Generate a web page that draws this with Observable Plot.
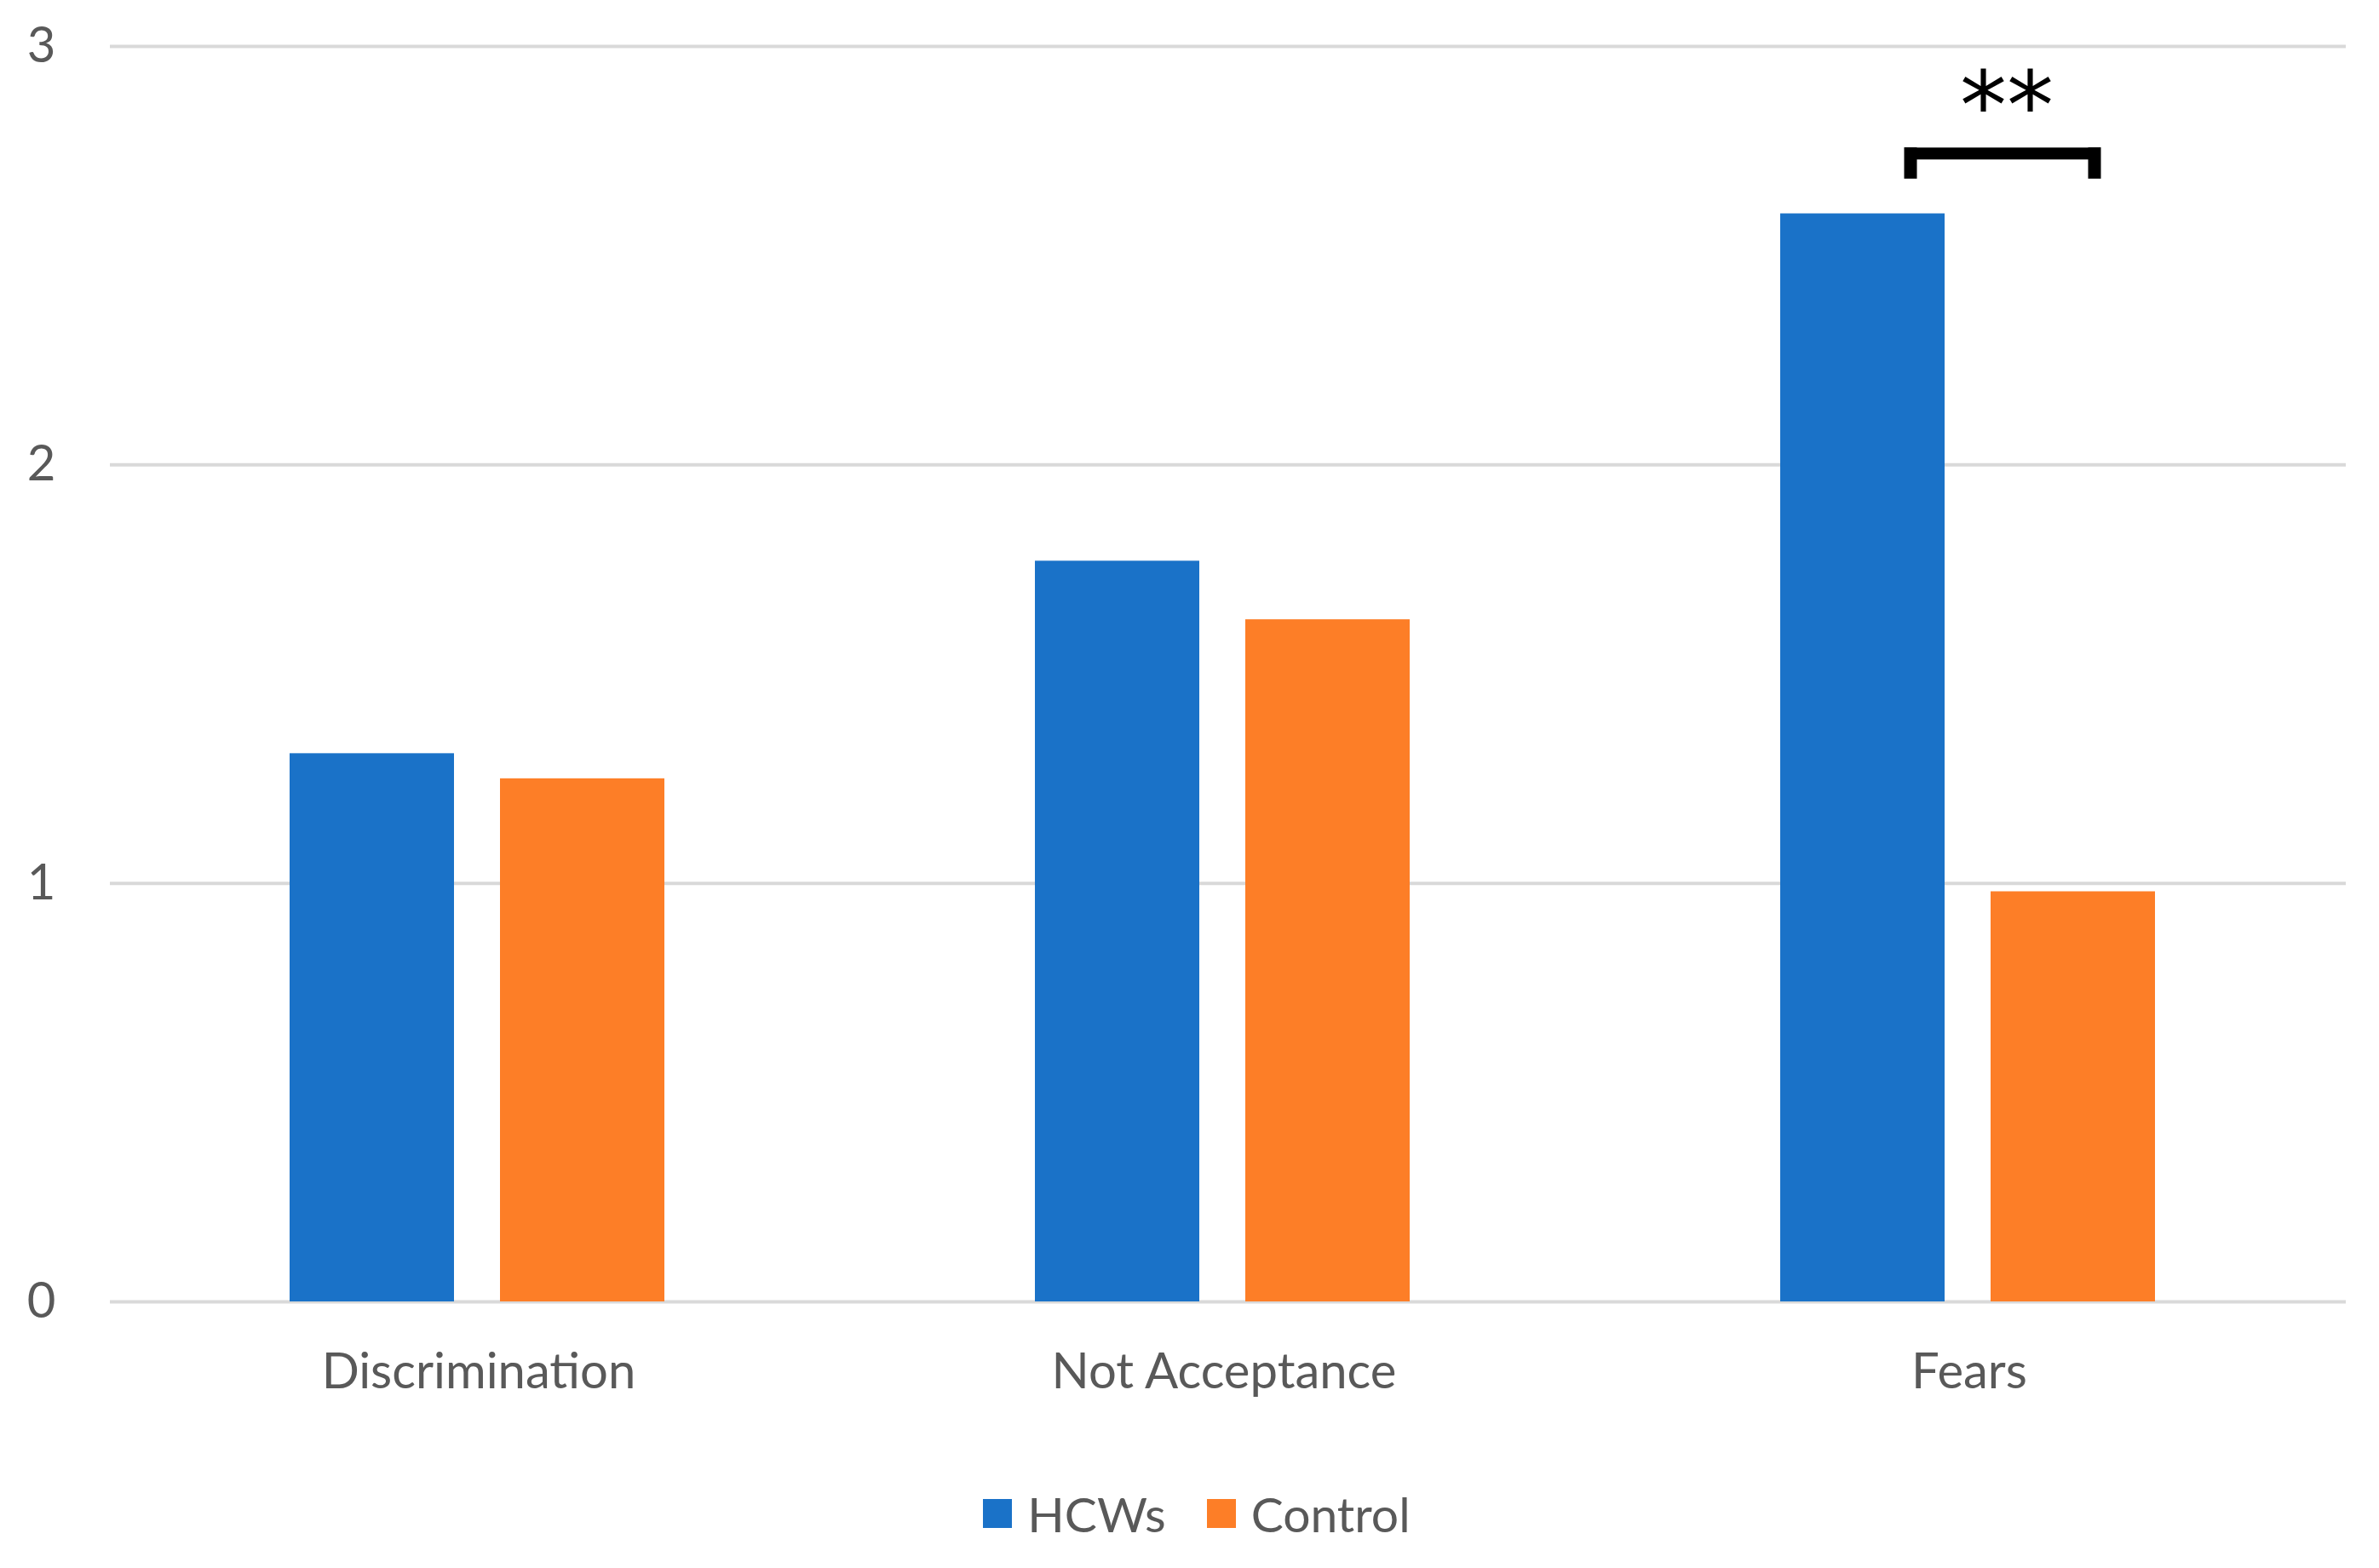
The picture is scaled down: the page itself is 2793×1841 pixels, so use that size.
<!DOCTYPE html>
<html>
<head>
<meta charset="utf-8">
<script src="https://cdn.jsdelivr.net/npm/d3@7"></script>
<script src="https://cdn.jsdelivr.net/npm/@observablehq/plot@0.6"></script>
<style>
  html, body { margin: 0; padding: 0; background: #ffffff; }
  #chart { width: 2793px; }
  #legend {
    width: 2793px; box-sizing: border-box; padding-left: 17px;
    display: flex; justify-content: center; align-items: center;
    margin-top: 63px; font-family: Lato, "Open Sans", sans-serif; font-size: 57px; color: #595959;
  }
  #legend .item { display: flex; align-items: center; }
  #legend .item + .item { margin-left: 48px; }
  #legend .sw { width: 34px; height: 34px; margin-right: 18px; }
</style>
</head>
<body>
<div id="chart"></div>
<div id="legend"></div>
<script>
// ---- data ----
const categories = ["Discrimination", "Not Acceptance", "Fears"];
const groups = ["HCWs", "Control"];
const hcwsValues = [1.31, 1.77, 2.60];
const controlValues = [1.25, 1.63, 0.98];
const yTicks = [0, 1, 2, 3];
const colors = ["#1a72c8", "#fd7e27"];
// significance annotation
const sigCategory = "Fears";
const sigLabel = "**";
const sigBracketY = 2.744;
const sigLegTop = 2.758;
const sigLegBottom = 2.683;
const sigTextY = 2.85;

const table = [];
categories.forEach((c, i) => {
  table.push({category: c, group: groups[0], value: hcwsValues[i]});
  table.push({category: c, group: groups[1], value: controlValues[i]});
});

const plot = Plot.plot({
  width: 2793,
  height: 1680,
  marginTop: 54,
  marginLeft: 128,
  marginRight: 39,
  marginBottom: 152,
  style: {fontFamily: "Lato, 'Open Sans', sans-serif", fontSize: "58px", color: "#595959", background: "#ffffff"},
  fx: {domain: categories, padding: 0, label: null},
  x: {domain: groups, paddingInner: 0.22, paddingOuter: 0.879, align: 0.485, axis: null},
  y: {domain: [0, 3], ticks: yTicks, tickSize: 0, tickPadding: 64, label: null, tickFormat: d => String(d)},
  color: {domain: groups, range: colors},
  marks: [
    Plot.gridY(yTicks, {stroke: "#d9d9d9", strokeOpacity: 1, strokeWidth: 4}),
    Plot.axisFx({anchor: "bottom", tickSize: 0, tickPadding: 60, dx: -5, label: null}),
    Plot.barY(table, {fx: "category", x: "group", y: "value", fill: "group", inset: 0}),
    // bracket
    Plot.ruleY([{fx: sigCategory}], {fx: "fx", y: () => sigBracketY, x1: () => groups[0], x2: () => groups[1],
      stroke: "#000", strokeWidth: 14, insetLeft: 146, insetRight: 64}),
    Plot.ruleX([{fx: sigCategory}], {fx: "fx", x: () => groups[0], y1: () => sigLegBottom, y2: () => sigLegTop,
      stroke: "#000", strokeWidth: 15, dx: 56}),
    Plot.ruleX([{fx: sigCategory}], {fx: "fx", x: () => groups[1], y1: () => sigLegBottom, y2: () => sigLegTop,
      stroke: "#000", strokeWidth: 15, dx: 25}),
    Plot.text([{fx: sigCategory}], {fx: "fx", y: () => sigTextY, text: () => sigLabel, dx: 39,
      fontFamily: "DejaVu Sans", fontSize: 110, fill: "#000"})
  ]
});
document.getElementById("chart").appendChild(plot);

const legend = document.getElementById("legend");
groups.forEach((g, i) => {
  const item = document.createElement("div");
  item.className = "item";
  const sw = document.createElement("span");
  sw.className = "sw";
  sw.style.background = colors[i];
  const t = document.createElement("span");
  t.textContent = g;
  item.appendChild(sw);
  item.appendChild(t);
  legend.appendChild(item);
});
</script>
</body>
</html>
